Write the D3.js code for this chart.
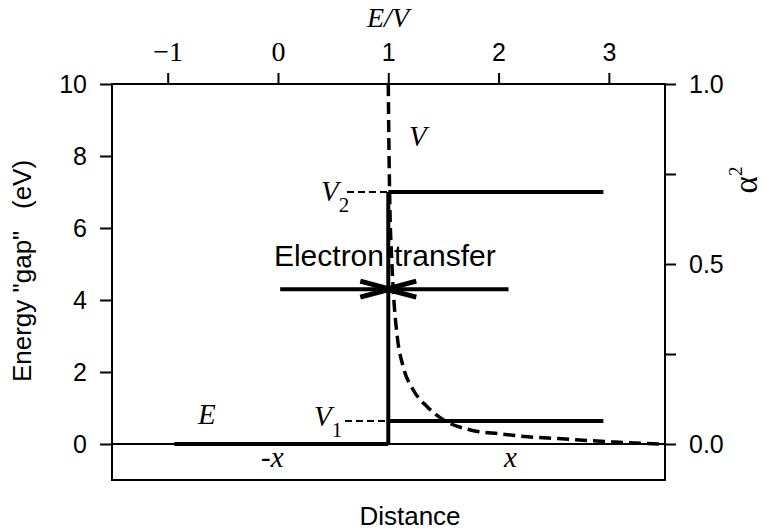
<!DOCTYPE html>
<meta charset="utf-8">
<script src="https://cdnjs.cloudflare.com/ajax/libs/d3/7.8.5/d3.min.js"></script>
<style>
  body { margin: 0; background: #fff; }
  text { fill: #000; }
</style>
<div id="chart"></div>
<script>
    // values
    const topTicks = [-1, 0, 1, 2, 3];            // E/V
    const leftTicks = [0, 2, 4, 6, 8, 10];        // energy (eV)
    const rightTicks = [0, 0.25, 0.5, 0.75, 1.0]; // alpha^2
    const rightLabels = { 0: "0.0", 0.5: "0.5", 1: "1.0" };

    // energy levels: [E/V start, E/V end, eV]
    const eLine = [-0.94, 1.0, 0];
    const v1Line = [1.0, 2.95, 0.64];
    const v2Line = [1.0, 2.95, 7.0];
    const wall = [1.0, 0, 7.0];  // x, from, to
    const arrowY = 4.3;
    const arrowLeft = [0.02, 1.0];
    const arrowRight = [2.09, 1.0];

    // alpha^2 against E/V (dashed curve)
    const alphaX = [1.0, 1.005, 1.015, 1.03, 1.045, 1.082, 1.136, 1.227, 1.355, 1.5, 1.745, 2.02, 2.26, 2.54, 3.02, 3.47];
    const alphaY = [1.0, 0.85, 0.65, 0.52, 0.428, 0.297, 0.214, 0.150, 0.103, 0.067, 0.039, 0.028, 0.020, 0.015, 0.006, 0.0];

    var W = 767, H = 530;
    var pL = 112, pR = 665, pT = 84, pB = 480;

    var svg = d3.select("#chart").append("svg")
        .attr("width", W).attr("height", H);

    var x = d3.scaleLinear().domain([-1.505, 3.509]).range([pL, pR]);
    var y = d3.scaleLinear().domain([-1, 10]).range([pB, pT]);
    var y2 = d3.scaleLinear().domain([-0.1, 1.0]).range([pB, pT]);

    var sans = "Liberation Sans, Arial, sans-serif";
    var serif = "Liberation Serif, Times New Roman, serif";

    // frame
    svg.append("rect")
        .attr("x", pL).attr("y", pT)
        .attr("width", pR - pL).attr("height", pB - pT)
        .attr("fill", "none").attr("stroke", "#000").attr("stroke-width", 2);

    // zero line
    svg.append("line")
        .attr("x1", pL).attr("x2", pR)
        .attr("y1", y(0)).attr("y2", y(0))
        .attr("stroke", "#000").attr("stroke-width", 2);

    function styleAxis(g) {
        g.select(".domain").remove();
        g.selectAll(".tick line").attr("stroke", "#000").attr("stroke-width", 2);
        g.selectAll(".tick text").attr("fill", "#000");
    }

    // top axis
    svg.append("g")
        .attr("transform", "translate(0," + pT + ")")
        .call(d3.axisTop(x).tickValues(topTicks).tickSize(11).tickPadding(12)
            .tickFormat(d => d < 0 ? "\u2212" + Math.abs(d) : d))
        .call(styleAxis)
        .call(g => g.selectAll(".tick text")
            .attr("font-family", d => d < 1 ? serif : sans)
            .attr("font-size", d => d < 1 ? 28 : 25));

    // left axis
    svg.append("g")
        .attr("transform", "translate(" + pL + ",0)")
        .call(d3.axisLeft(y).tickValues(leftTicks).tickSize(12).tickPadding(13))
        .call(styleAxis)
        .call(g => g.selectAll(".tick text")
            .attr("font-family", sans).attr("font-size", 25));

    // right axis
    svg.append("g")
        .attr("transform", "translate(" + pR + ",0)")
        .call(d3.axisRight(y2).tickValues(rightTicks).tickSize(11).tickPadding(13)
            .tickFormat(d => rightLabels[d] || ""))
        .call(styleAxis)
        .call(g => g.selectAll(".tick text")
            .attr("font-family", sans).attr("font-size", 25));

    // axis titles
    svg.append("text")
        .attr("x", 388).attr("y", 27)
        .attr("text-anchor", "middle")
        .attr("font-family", serif).attr("font-style", "italic").attr("font-size", 28)
        .text("E/V");

    svg.append("text")
        .attr("transform", "translate(31,271) rotate(-90)")
        .attr("text-anchor", "middle")
        .attr("font-family", sans).attr("font-size", 26)
        .attr("xml:space", "preserve")
        .text('Energy "gap"   (eV)');

    var aLab = svg.append("text")
        .attr("transform", "translate(757,180) rotate(-90)")
        .attr("text-anchor", "middle")
        .attr("font-family", serif).attr("font-size", 33);
    aLab.append("tspan").text("\u03b1");
    aLab.append("tspan").attr("font-size", 19).attr("dy", -15).text("2");

    svg.append("text")
        .attr("x", 410).attr("y", 525)
        .attr("text-anchor", "middle")
        .attr("font-family", sans).attr("font-size", 26)
        .text("Distance");

    // dashed alpha^2 curve
    var curve = d3.line()
        .x(d => x(d[0])).y(d => y2(d[1]))
        .curve(d3.curveMonotoneX);
    svg.append("path")
        .datum(alphaX.map((v, i) => [v, alphaY[i]]))
        .attr("d", curve)
        .attr("fill", "none").attr("stroke", "#000")
        .attr("stroke-width", 3.5).attr("stroke-dasharray", "12,6");

    // thick level lines
    function thick(x1, x2, y1, y2v) {
        svg.append("line")
            .attr("x1", x(x1)).attr("x2", x(x2))
            .attr("y1", y(y1)).attr("y2", y(y2v))
            .attr("stroke", "#000").attr("stroke-width", 4);
    }
    thick(eLine[0], eLine[1], eLine[2], eLine[2]);
    thick(v1Line[0], v1Line[1], v1Line[2], v1Line[2]);
    thick(v2Line[0], v2Line[1], v2Line[2], v2Line[2]);
    thick(wall[0], wall[0], wall[1], wall[2]);

    // thin dashed leaders to V1, V2 labels
    [[v1Line[2], 345], [v2Line[2], 347]].forEach(function (p) {
        svg.append("line")
            .attr("x1", p[1]).attr("x2", x(1))
            .attr("y1", y(p[0])).attr("y2", y(p[0]))
            .attr("stroke", "#000").attr("stroke-width", 2)
            .attr("stroke-dasharray", "7,4");
    });

    // arrows
    function arrow(from, to) {
        var dir = to > from ? 1 : -1;
        var tx = x(to) + dir * 2, ty = y(arrowY);
        svg.append("line")
            .attr("x1", x(from)).attr("x2", tx)
            .attr("y1", ty).attr("y2", ty)
            .attr("stroke", "#000").attr("stroke-width", 4);
        svg.append("path")
            .attr("d", "M" + (tx - dir * 30) + "," + (ty - 8) + "L" + tx + "," + ty +
                "L" + (tx - dir * 30) + "," + (ty + 8))
            .attr("fill", "none").attr("stroke", "#000").attr("stroke-width", 5);
    }
    arrow(arrowLeft[0], arrowLeft[1]);
    arrow(arrowRight[0], arrowRight[1]);

    // labels
    svg.append("text")
        .attr("x", 384).attr("y", 266).attr("text-anchor", "end")
        .attr("font-family", sans).attr("font-size", 30).text("Electron");
    svg.append("text")
        .attr("x", 394).attr("y", 266)
        .attr("font-family", sans).attr("font-size", 30).text("transfer");

    function italic(tx, ty, s, sub, size) {
        var t = svg.append("text")
            .attr("x", tx).attr("y", ty)
            .attr("font-family", serif).attr("font-size", size);
        t.append("tspan").attr("font-style", "italic").text(s);
        if (sub) t.append("tspan").attr("font-size", 21).attr("dy", 11).text(sub);
    }
    italic(409, 146, "V", null, 29);
    italic(321, 201, "V", "2", 29);
    italic(314, 426, "V", "1", 29);
    italic(198, 424, "E", null, 29);
    italic(261, 467, "-x", null, 29);
    italic(504, 467, "x", null, 29);
</script>
